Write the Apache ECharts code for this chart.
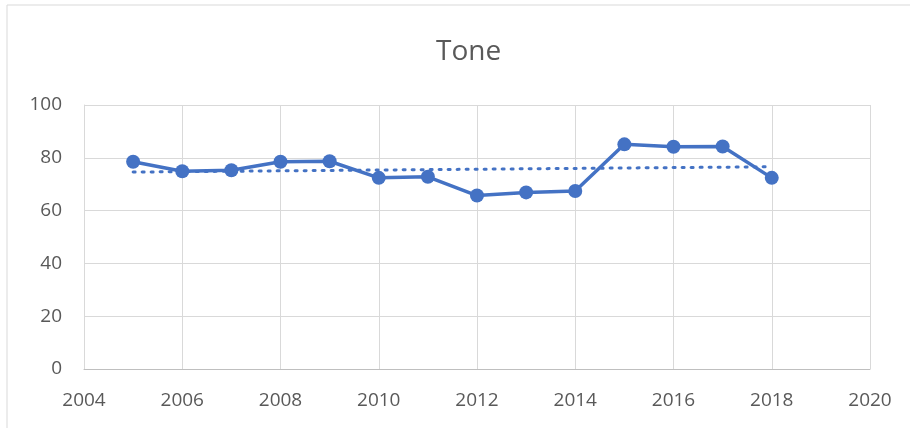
<!DOCTYPE html>
<html>
<head>
<meta charset="utf-8">
<script src="https://cdn.jsdelivr.net/npm/echarts@6/dist/echarts.min.js"></script>
<style>
  html, body { margin: 0; padding: 0; background: #fff; }
  #chart { width: 910px; height: 428px; }
</style>
</head>
<body>
<div id="chart"></div>
<script>
  // values
  const years = [2005, 2006, 2007, 2008, 2009, 2010, 2011, 2012, 2013, 2014, 2015, 2016, 2017, 2018]
  const tone = [78.5, 74.9, 75.3, 78.5, 78.7, 72.4, 72.8, 65.7, 66.9, 67.4, 85.1, 84.2, 84.3, 72.4]
  // linear trendline end points (first and last year)
  const trendYears = [2005, 2018]
  const trendValues = [74.6, 76.6]

  const textColor = '#595959'
  const font = 'Open Sans'

  let myChart = echarts.init(document.getElementById('chart'))
  let option = {
    animation: false,
    backgroundColor: '#fff',
    title: {
      text: 'Tone',
      left: 431,
      top: 33,
      textStyle: { color: textColor, fontFamily: font, fontSize: 28, fontWeight: 'normal' }
    },
    graphic: [{
      type: 'rect',
      shape: { x: 7, y: 5, width: 930, height: 450 },
      style: { fill: 'none', stroke: '#d9d9d9', lineWidth: 1 },
      silent: true
    }],
    grid: { left: 84, right: 40, top: 105, bottom: 59 },
    xAxis: {
      type: 'value',
      min: 2004,
      max: 2020,
      interval: 2,
      axisLine: { show: true, onZero: false, lineStyle: { color: '#bfbfbf', width: 1 } },
      axisTick: { show: false },
      splitLine: { show: true, lineStyle: { color: '#d9d9d9', width: 1 } },
      axisLabel: {
        color: textColor, fontFamily: font, fontSize: 19, margin: 22,
        formatter: v => String(v)
      }
    },
    yAxis: {
      type: 'value',
      min: 0,
      max: 100,
      interval: 20,
      axisLine: { show: true, lineStyle: { color: '#d9d9d9', width: 1 } },
      axisTick: { show: false },
      splitLine: { show: true, lineStyle: { color: '#d9d9d9', width: 1 } },
      axisLabel: { color: textColor, fontFamily: font, fontSize: 19, margin: 22 }
    },
    series: [
      {
        name: 'Trend',
        type: 'line',
        data: trendYears.map((y, i) => [y, trendValues[i]]),
        symbol: 'none',
        lineStyle: { color: '#4472c4', width: 3, type: [2, 7], cap: 'round' },
        z: 1
      },
      {
        name: 'Tone',
        type: 'line',
        data: years.map((y, i) => [y, tone[i]]),
        symbol: 'circle',
        symbolSize: 14,
        itemStyle: { color: '#4472c4' },
        lineStyle: { color: '#4472c4', width: 3.5 },
        z: 2
      }
    ]
  }
  myChart.setOption(option)
</script>
</body>
</html>
